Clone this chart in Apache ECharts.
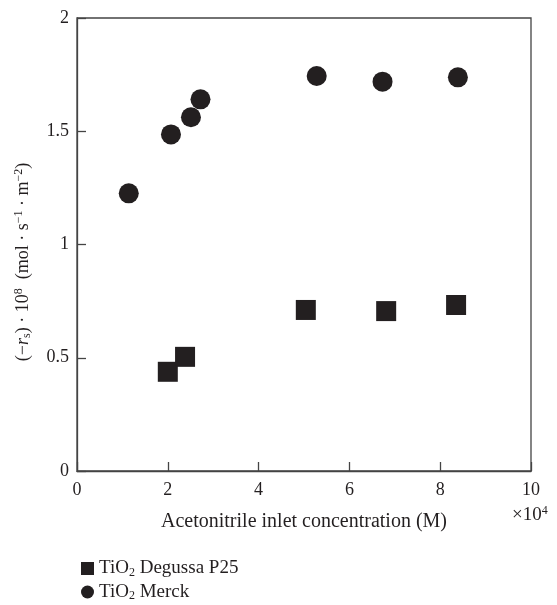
<!DOCTYPE html>
<html>
<head>
<meta charset="utf-8">
<script src="https://cdn.jsdelivr.net/npm/echarts@6/dist/echarts.min.js"></script>
<style>
  html, body { margin: 0; padding: 0; background: #fff; }
  #chart { width: 557px; height: 605px; }
</style>
</head>
<body>
<div id="chart"></div>
<script>
// concentration in units of 1e4 M, rate in 1e-8 mol/s/m2
var degussaX = [2.0, 2.38, 5.04, 6.81, 8.35];
var degussaY = [0.438, 0.504, 0.711, 0.706, 0.733];
var merckX = [1.14, 2.07, 2.51, 2.72, 5.28, 6.73, 8.39];
var merckY = [1.226, 1.486, 1.562, 1.641, 1.744, 1.719, 1.738];

var FONT = '"Liberation Serif", "DejaVu Serif", serif';
var INK = '#231f20';

function pairs(xs, ys) {
    var out = [];
    for (var i = 0; i < xs.length; i++) {
        out.push([xs[i], ys[i]]);
    }
    return out;
}

var chart = echarts.init(document.getElementById('chart'));
chart.setOption({
    animation: false,
    textStyle: { fontFamily: FONT, color: INK },
    grid: {
        left: 77, right: 26, top: 18, bottom: 134,
        show: true, borderColor: '#444', borderWidth: 1.3
    },
    xAxis: {
        type: 'value', min: 0, max: 10, interval: 2,
        name: 'Acetonitrile inlet concentration (M)',
        nameLocation: 'middle', nameGap: 41,
        nameTextStyle: { fontFamily: FONT, fontSize: 20, color: INK },
        axisLine: { lineStyle: { color: '#444', width: 1.3 } },
        axisTick: { inside: true, length: 9, lineStyle: { color: '#444', width: 1.3 } },
        axisLabel: { margin: 10, fontFamily: FONT, fontSize: 18, color: INK },
        splitLine: { show: false }
    },
    yAxis: {
        type: 'value', min: 0, max: 2, interval: 0.5,
        axisLine: { show: true, lineStyle: { color: '#444', width: 1.3 } },
        axisTick: { show: true, inside: true, length: 9, lineStyle: { color: '#444', width: 1.3 } },
        axisLabel: { margin: 8, fontFamily: FONT, fontSize: 18, color: INK },
        splitLine: { show: false }
    },
    legend: {
        orient: 'vertical', left: 76, top: 554, height: 60,
        itemWidth: 13, itemHeight: 13, itemGap: 4,
        textStyle: {
            fontFamily: FONT, fontSize: 19, color: INK,
            rich: {
                t: { fontFamily: FONT, fontSize: 19, color: INK },
                sub: { fontFamily: FONT, fontSize: 12, color: INK, padding: [8, 0, 0, 0] }
            }
        },
        formatter: function (name) {
            if (name === 'degussa') return '{t|TiO}{sub|2}{t| Degussa P25}';
            return '{t|TiO}{sub|2}{t| Merck}';
        },
        data: [
            { name: 'degussa', icon: 'rect' },
            { name: 'merck', icon: 'circle' }
        ]
    },
    graphic: [
        {
            type: 'text', left: 512, top: 505,
            style: {
                text: '{t|×10}{sup|4}',
                rich: {
                    t: { fontFamily: FONT, fontSize: 19, fill: INK },
                    sup: { fontFamily: FONT, fontSize: 12, fill: INK, padding: [0, 0, 9, 0] }
                }
            }
        },
        {
            type: 'text', x: 23, y: 262, rotation: Math.PI / 2,
            style: {
                text: '{t|(−}{i|r}{sub|s}{t|) · 10}{sup|8}{t|  (mol · s}{sup|−1}{t| · m}{sup|−2}{t|)}',
                align: 'center', verticalAlign: 'middle',
                rich: {
                    t: { fontFamily: FONT, fontSize: 18, fill: INK },
                    i: { fontFamily: FONT, fontSize: 18, fontStyle: 'italic', fill: INK },
                    sub: { fontFamily: FONT, fontSize: 12, fill: INK, padding: [8, 0, 0, 0] },
                    sup: { fontFamily: FONT, fontSize: 12, fill: INK, padding: [0, 0, 9, 0] }
                }
            }
        }
    ],
    series: [
        {
            name: 'degussa', type: 'scatter', symbol: 'rect', symbolSize: 20,
            itemStyle: { color: INK, opacity: 1 },
            data: pairs(degussaX, degussaY)
        },
        {
            name: 'merck', type: 'scatter', symbol: 'circle', symbolSize: 20,
            itemStyle: { color: INK, opacity: 1 },
            data: pairs(merckX, merckY)
        }
    ]
});
</script>
</body>
</html>
